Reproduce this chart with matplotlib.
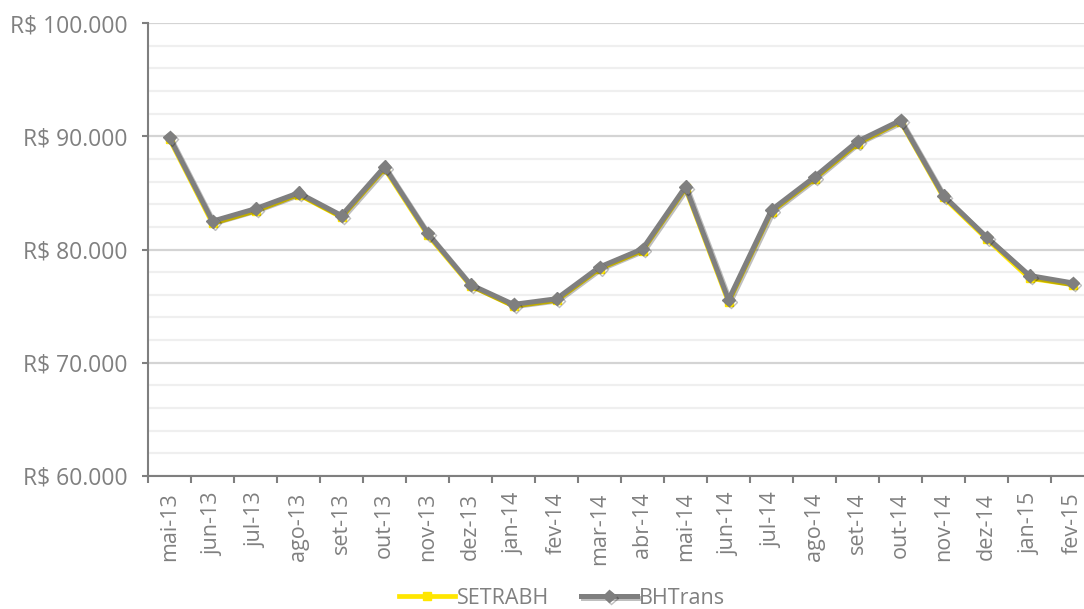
import numpy as np
import matplotlib
matplotlib.use("Agg")
import matplotlib.pyplot as plt
import matplotlib.patheffects as pe
from matplotlib.ticker import FixedLocator, FuncFormatter

meses = ["mai-13", "jun-13", "jul-13", "ago-13", "set-13", "out-13", "nov-13",
         "dez-13", "jan-14", "fev-14", "mar-14", "abr-14", "mai-14", "jun-14",
         "jul-14", "ago-14", "set-14", "out-14", "nov-14", "dez-14", "jan-15", "fev-15"]

bhtrans = [89900, 82500, 83600, 85000, 83000, 87300, 81450, 76900, 75150, 75650,
           78450, 80050, 85550, 75550, 83500, 86400, 89550, 91400, 84750, 81100,
           77700, 77050]
setrabh = [89750, 82300, 83400, 84850, 82850, 87150, 81300, 76800, 75000, 75500,
           78300, 79900, 85400, 75350, 83350, 86250, 89350, 91300, 84600, 80950,
           77450, 76900]

cinza = "#7f7f7f"
amarelo = "#ffe600"
texto = "#808080"

plt.rcParams["font.family"] = ["Open Sans", "DejaVu Sans"]

fig = plt.figure(figsize=(10.84, 6.09), dpi=100)
# plot area runs slightly past the right edge, like the original
ax = fig.add_axes([148 / 1084, 1 - 476 / 609, 946 / 1084, 453 / 609])

x = np.arange(len(meses))
ax.plot(x, setrabh, color=amarelo, lw=3.4, marker="s", ms=6, zorder=3,
        label="SETRABH")
ax.plot(x, bhtrans, color=cinza, lw=3.6, marker="D", ms=6.5, zorder=4,
        label="BHTrans",
        path_effects=[pe.SimpleLineShadow(offset=(1.5, -1.5), alpha=0.25), pe.Normal()])

ax.set_xlim(-0.5, len(meses) - 0.5)
ax.set_ylim(60000, 100000)

ax.yaxis.set_major_locator(FixedLocator(np.arange(60000, 100001, 10000)))
ax.yaxis.set_minor_locator(FixedLocator(np.arange(60000, 100001, 2000)))
ax.yaxis.set_major_formatter(FuncFormatter(lambda v, p: "R$ " + f"{int(v):,}".replace(",", ".")))
ax.grid(axis="y", which="major", color="#d4d4d4", lw=1.6, zorder=0)
ax.grid(axis="y", which="minor", color="#efefef", lw=1.6, zorder=0)
ax.set_axisbelow(True)

ax.xaxis.set_major_locator(FixedLocator(np.arange(-0.5, len(meses), 1.0)))
ax.xaxis.set_major_formatter(FuncFormatter(lambda v, p: ""))
ax.xaxis.set_minor_locator(FixedLocator(x))
ax.set_xticklabels(meses, minor=True, rotation=90)

ax.tick_params(axis="x", which="major", length=5, width=1.5, color=cinza)
ax.tick_params(axis="x", which="minor", length=0, pad=12, labelsize=15.5, labelcolor=texto)
ax.tick_params(axis="y", which="major", length=4.5, width=1.5, color=cinza,
               labelsize=16.5, labelcolor=texto, pad=10)
ax.tick_params(axis="y", which="minor", length=0)

for s in ["top", "right"]:
    ax.spines[s].set_visible(False)
for s in ["left", "bottom"]:
    ax.spines[s].set_color(cinza)
    ax.spines[s].set_linewidth(1.5)

fig.legend(loc="center", bbox_to_anchor=(562 / 1084, 1 - 598 / 609), ncol=2,
           frameon=False, fontsize=15.5, labelcolor=texto, handlelength=2.6,
           handletextpad=0.1, columnspacing=1.5)

fig.savefig("out.png", dpi=100)
